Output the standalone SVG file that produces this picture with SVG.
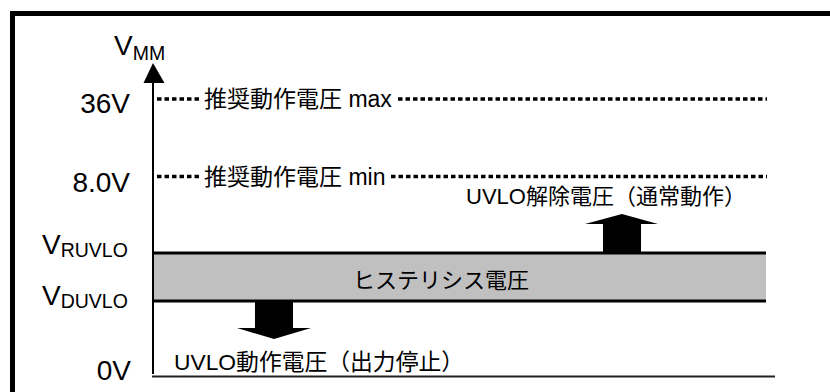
<svg xmlns="http://www.w3.org/2000/svg" width="830" height="392" viewBox="0 0 830 392">
<style>
text{font-family:"Liberation Sans","Noto Sans CJK JP",sans-serif;fill:#000}
.lab{font-size:28px}
.sub{font-size:19.5px}
.jp{font-size:22px}
.jp2{font-size:23px}
.dot{stroke:#000;stroke-width:3.5;stroke-dasharray:4.5 3;fill:none}
</style>
<rect width="830" height="392" fill="#fff"/>
<g id="frame"><rect x="12.5" y="13.5" width="840" height="420" fill="none" stroke="#000" stroke-width="5"/></g>
<g id="axis">
<line x1="153" y1="80" x2="153" y2="374" stroke="#000" stroke-width="2"/>
<polygon points="153,63 143.5,83 164.5,83" fill="#000"/>
<line x1="152" y1="376.5" x2="775" y2="376.5" stroke="#222" stroke-width="2"/>
<text class="lab" x="114" y="55">V<tspan class="sub" dy="5">MM</tspan></text>
</g>
<g id="level-36v">
<text class="lab" x="130" y="113" text-anchor="end">36V</text>
<line class="dot" x1="157" y1="99" x2="202" y2="99"/>
<text class="jp2" x="204" y="107">推奨動作電圧 max</text>
<line class="dot" x1="398" y1="99" x2="767" y2="99"/>
</g>
<g id="level-8v">
<text class="lab" x="130" y="192" text-anchor="end">8.0V</text>
<line class="dot" x1="157" y1="176.5" x2="202" y2="176.5"/>
<text class="jp2" x="204" y="184.5">推奨動作電圧 min</text>
<line class="dot" x1="391" y1="176.5" x2="767" y2="176.5"/>
</g>
<g id="hysteresis">
<rect x="154" y="253" width="612" height="48" fill="#c0c0c0"/>
<line x1="153" y1="253" x2="766" y2="253" stroke="#000" stroke-width="3"/>
<line x1="153" y1="301" x2="766" y2="301" stroke="#000" stroke-width="3"/>
<text class="jp" x="441" y="288" text-anchor="middle">ヒステリシス電圧</text>
<text class="lab" x="42" y="254">V<tspan class="sub" dy="3">RUVLO</tspan></text>
<text class="lab" x="42" y="305">V<tspan class="sub" dy="3">DUVLO</tspan></text>
</g>
<g id="release">
<path d="M603,252 L603,224 L585,224 L622,214 L658,224 L641,224 L641,252 Z" fill="#000"/>
<text class="jp" x="466" y="204">UVLO解除電圧（通常動作）</text>
</g>
<g id="detect">
<path d="M255,302 L255,328 L237,328 L274,339 L311,328 L293,328 L293,302 Z" fill="#000"/>
<text class="jp" x="174" y="370" style="font-size:22.8px">UVLO動作電圧（出力停止）</text>
</g>
<g id="zero">
<text class="lab" x="131" y="380" text-anchor="end">0V</text>
</g>
</svg>
